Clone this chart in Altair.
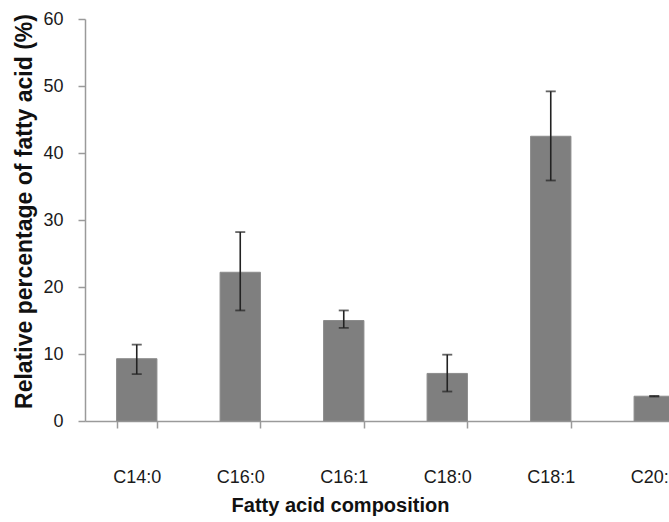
import altair as alt
import pandas as pd

categories = ["C14:0", "C16:0", "C16:1", "C18:0", "C18:1", "C20:1"]
means = [9.3, 22.2, 15.0, 7.1, 42.5, 3.7]
err_low = [7.0, 16.5, 13.9, 4.4, 35.9, 3.65]
err_high = [11.4, 28.2, 16.5, 9.9, 49.2, 3.75]

df = pd.DataFrame({"cat": categories, "mean": means, "lo": err_low, "hi": err_high})

FONT = "Liberation Sans"

xscale = alt.Scale(domain=categories, range=[0, 621], paddingInner=0.61, paddingOuter=0.305)
yscale = alt.Scale(domain=[0, 60], nice=False)

xenc = alt.X("cat:N", scale=xscale, sort=categories,
             axis=alt.Axis(title="Fatty acid composition", labelAngle=0, tickBand="extent",
                           labelFontSize=18, labelFont=FONT, labelColor="#1a1a1a",
                           labelPadding=40, labelBaseline="top",
                           titleFont=FONT, titleFontSize=20,
                           titleFontWeight="bold", titleColor="#111111",
                           titleX=255, titleY=84, titleBaseline="middle", titleAlign="center",
                           domainColor="#9a9a9a", domainWidth=1.5, tickColor="#9a9a9a",
                           tickWidth=1.5, tickSize=7))

base = alt.Chart(df)

bars = base.mark_bar(color="#7f7f7f", stroke="#8c8c8c", strokeWidth=1).encode(
    x=xenc,
    y=alt.Y("mean:Q", scale=yscale,
            axis=alt.Axis(title="Relative percentage of fatty acid (%)", values=[0, 10, 20, 30, 40, 50, 60],
                          grid=False, labelFontSize=18, labelFont=FONT, labelColor="#1a1a1a",
                          labelPadding=15, titleFont=FONT, titleFontSize=23, titleFontWeight="bold",
                          titleColor="#111111", titleX=-61, titleY=192, titleAngle=270,
                          titleBaseline="middle", titleAlign="center",
                          domainColor="#9a9a9a", domainWidth=1.5, tickColor="#9a9a9a",
                          tickWidth=1.5, tickSize=7)),
)

rules = base.mark_rule(color="#222222", strokeWidth=1.6).encode(
    x=alt.X("cat:N", scale=xscale, sort=categories),
    y=alt.Y("lo:Q", scale=yscale),
    y2="hi:Q",
)

cap_lo = base.mark_tick(color="#222222", orient="horizontal", size=10, thickness=1.8).encode(
    x=alt.X("cat:N", scale=xscale, sort=categories),
    y=alt.Y("lo:Q", scale=yscale),
)
cap_hi = base.mark_tick(color="#222222", orient="horizontal", size=10, thickness=1.8).encode(
    x=alt.X("cat:N", scale=xscale, sort=categories),
    y=alt.Y("hi:Q", scale=yscale),
)

chart = alt.layer(bars, rules, cap_lo, cap_hi).properties(
    width=584, height=402,
    autosize=alt.AutoSizeParams(type="none"),
    padding={"left": 85, "top": 19, "right": 0, "bottom": 101},
    background="white",
).configure_view(stroke=None)

chart.save("out.html", embed_options={"renderer": "svg", "actions": False})
